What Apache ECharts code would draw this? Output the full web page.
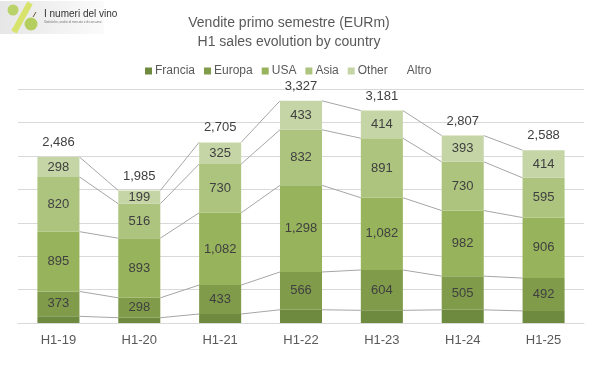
<!DOCTYPE html>
<html>
<head>
<meta charset="utf-8">
<script src="https://cdn.jsdelivr.net/npm/echarts@6/dist/echarts.min.js"></script>
<style>
html,body{margin:0;padding:0;background:#fff;}
#c{width:603px;height:370px;}
</style>
</head>
<body>
<div id="c"></div>
<script>
var categories = ['H1-19','H1-20','H1-21','H1-22','H1-23','H1-24','H1-25'];
var francia = [100, 79, 135, 198, 190, 197, 181];
var europa  = [373, 298, 433, 566, 604, 505, 492];
var usa     = [895, 893, 1082, 1298, 1082, 982, 906];
var asia    = [820, 516, 730, 832, 891, 730, 595];
var other   = [298, 199, 325, 433, 414, 393, 414];
var totals  = [2486, 1985, 2705, 3327, 3181, 2807, 2588];
var seriesNames = ['Francia','Europa','USA','Asia','Other','Altro'];

var FONT = '"Liberation Sans", Arial, sans-serif';
var colors = ['#6e8a3f','#809c4b','#97b35b','#adc47f','#c5d5a6'];
var stacks = [francia, europa, usa, asia, other];

var chart = echarts.init(document.getElementById('c'), null, {renderer:'canvas'});

function fmt(v){ return v.toLocaleString('en-US'); }

var barSeries = stacks.map(function(arr, k){
  return {
    name: seriesNames[k],
    type: 'bar',
    stack: 'tot',
    barWidth: '52%',
    data: arr,
    itemStyle: {color: colors[k]},
    label: {
      show: k > 0,
      position: 'inside',
      color: '#404040',
      fontFamily: FONT,
      fontSize: 13,
      formatter: function(p){ return fmt(p.value); }
    },
    emphasis: {disabled: true},
    z: 2
  };
});

var cum = [];
(function(){
  var run = categories.map(function(){return 0;});
  stacks.forEach(function(arr){
    run = run.map(function(v,i){ return v + arr[i]; });
    cum.push(run.slice());
  });
})();

var connectorSeries = {
  type: 'custom',
  name: 'connectors',
  silent: true,
  z: 1,
  data: categories.slice(0, categories.length - 1).map(function(c, i){ return [i]; }),
  renderItem: function(params, api){
    var i = api.value(0);
    var halfW = api.size([1, 0])[0] * 0.26;
    var children = [];
    for (var k = 0; k < cum.length; k++) {
      var p1 = api.coord([i, cum[k][i]]);
      var p2 = api.coord([i + 1, cum[k][i + 1]]);
      children.push({
        type: 'line',
        shape: {x1: p1[0] + halfW, y1: p1[1], x2: p2[0] - halfW, y2: p2[1]},
        style: {stroke: '#a6a6a6', lineWidth: 1}
      });
    }
    return {type: 'group', children: children};
  }
};

var totalSeries = {
  name: 'Altro',
  type: 'line',
  data: totals,
  symbol: 'circle',
  symbolSize: 0,
  showSymbol: true,
  lineStyle: {opacity: 0},
  itemStyle: {color: 'transparent'},
  label: {
    show: true,
    position: 'top',
    distance: 8,
    color: '#404040',
    fontFamily: FONT,
    fontSize: 13,
    formatter: function(p){ return fmt(p.value); }
  },
  emphasis: {disabled: true},
  z: 3
};

var option = {
  animation: false,
  textStyle: {fontFamily: FONT},
  title: {
    text: 'Vendite primo semestre (EURm)\nH1 sales evolution by country',
    left: 284, top: 8, textAlign: 'center',
    textStyle: {fontFamily: FONT, fontSize: 14, fontWeight: 'normal', color: '#595959', lineHeight: 19.5}
  },
  legend: {
    data: seriesNames.map(function(n, k){
      return k < 5 ? {name: n, itemStyle: {color: colors[k]}} : {name: n, itemStyle: {color: 'transparent'}};
    }),
    left: 140, top: 60,
    icon: 'rect', itemWidth: 7, itemHeight: 7, itemGap: 9,
    textStyle: {fontFamily: FONT, fontSize: 12, color: '#595959', padding: [0,0,0,-2]},
    selectedMode: false
  },
  grid: {left: 18, right: 19, top: 89.3, bottom: 47, containLabel: false},
  xAxis: {
    type: 'category',
    data: categories,
    axisLine: {show: true, lineStyle: {color: '#d9d9d9'}},
    axisTick: {show: false},
    axisLabel: {color: '#595959', fontFamily: FONT, fontSize: 13, margin: 11}
  },
  yAxis: {
    type: 'value',
    min: 0, max: 3500, interval: 500,
    axisLabel: {show: false},
    axisLine: {show: false},
    axisTick: {show: false},
    splitLine: {lineStyle: {color: '#d9d9d9'}}
  },
  graphic: [{
    type: 'group', left: 0, top: 0,
    children: [
      {type: 'rect', shape: {x: 0, y: 0, width: 104, height: 33},
       style: {fill: new echarts.graphic.LinearGradient(0,0,1,0,[{offset:0,color:'#e6e6e6'},{offset:1,color:'#fbfbfb'}])}},
      {type: 'line', shape: {x1: 30, y1: 2, x2: 14, y2: 31}, style: {stroke: '#d7e36a', lineWidth: 6}},
      {type: 'circle', shape: {cx: 13, cy: 9, r: 5.5}, style: {fill: '#b9d36a'}},
      {type: 'circle', shape: {cx: 31, cy: 23, r: 6.5}, style: {fill: '#b4cf60'}},
      {type: 'line', shape: {x1: 33, y1: 16, x2: 36, y2: 11}, style: {stroke: '#6b5a3a', lineWidth: 1}},
      {type: 'text', x: 44, y: 8, style: {text: 'I numeri del vino', fontFamily: FONT, fontSize: 10, fill: '#333333'}},
      {type: 'text', x: 44, y: 20, style: {text: 'Statistiche, analisi di mercato e di consumo', fontFamily: FONT, fontSize: 3, fill: '#777777'}}
    ]
  }],
  series: barSeries.concat([connectorSeries, totalSeries])
};
chart.setOption(option);
</script>
</body>
</html>
